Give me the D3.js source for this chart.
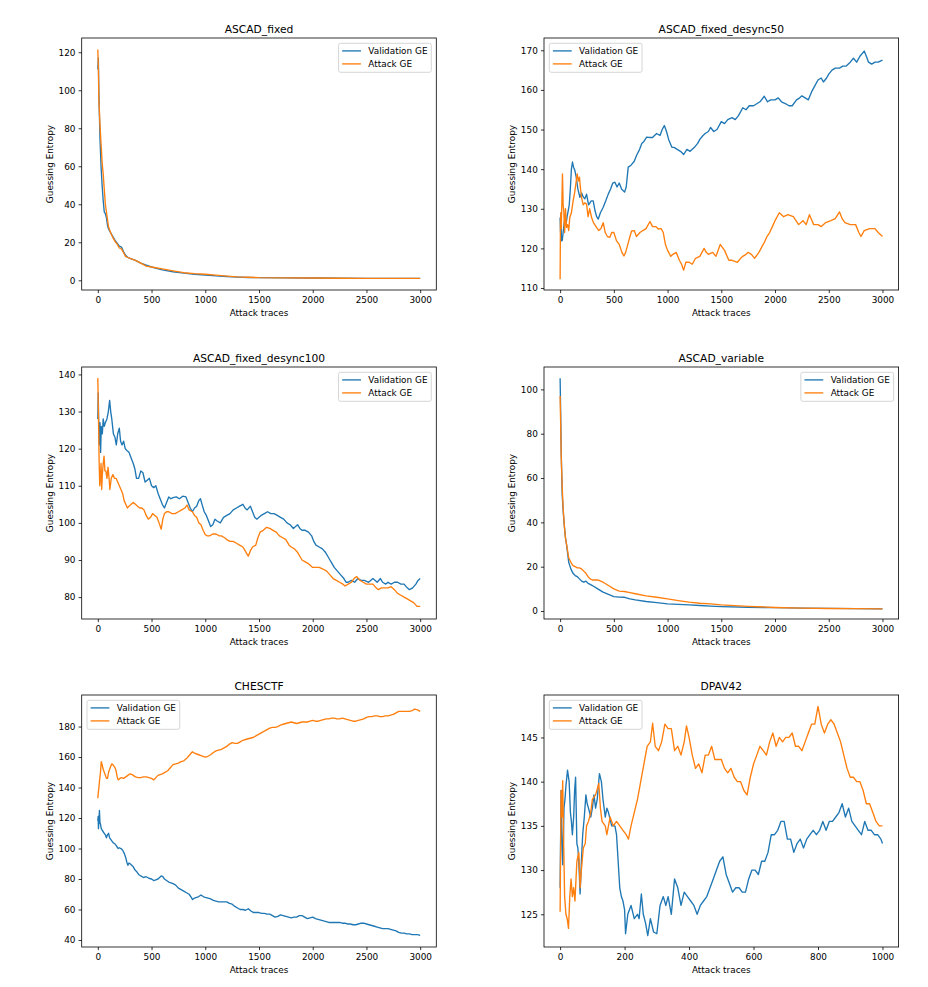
<!DOCTYPE html>
<html><head><meta charset="utf-8">
<script src="https://cdn.jsdelivr.net/npm/d3@7"></script>
<style>body{margin:0;background:#fff}svg{display:block}</style>
</head><body>
<svg id="c" width="928" height="987"></svg>
<script>
// ---------------- DATA ----------------
const seriesNames = ["Validation GE", "Attack GE"];
const xTicks3000 = [0, 500, 1000, 1500, 2000, 2500, 3000];
const xTicks1000 = [0, 200, 400, 600, 800, 1000];

// ASCAD_fixed
const ascadFixedVal = [[0,111],[5,117],[10,98],[20,75],[30,60],[40,50],[50,42],[60,36],[70,35],[80,33],[90,29],[100,27],[120,25],[140,23],[160,21],[180,19.5],[200,18],[220,17.5],[240,15],[260,13],[280,12],[300,11.5],[350,10.5],[400,9],[450,8],[500,7],[600,5.5],[700,4.5],[800,3.8],[900,3.2],[1000,2.8],[1100,2.3],[1200,2],[1300,1.7],[1400,1.5],[1500,1.4],[1750,1.3],[2000,1.2],[2250,1.1],[2500,1.05],[2750,1],[3000,1]];
const ascadFixedAtk = [[0,121.5],[5,112],[10,95],[20,82],[30,72],[40,62],[50,56],[60,48],[70,40],[80,36],[90,32],[100,28],[120,25],[140,22.5],[160,20.5],[180,19],[200,17],[220,16.5],[240,14.5],[260,12.5],[280,12],[300,11.5],[350,10.5],[400,9],[450,7.5],[500,7],[600,6],[700,5],[800,4],[900,3.5],[1000,3.2],[1100,2.7],[1200,2.2],[1300,1.8],[1400,1.6],[1500,1.4],[1750,1.3],[2000,1.2],[2250,1.1],[2500,1.05],[2750,1],[3000,1]];
const ascadFixedYTicks = [0, 20, 40, 60, 80, 100, 120];

// ASCAD_fixed_desync50
const desync50Val = [[0,127.8],[4,124],[8,127],[13,121.9],[20,122],[28,124],[36,126],[44,127.8],[55,126],[65,128],[75,129.5],[85,131],[95,135],[105,140],[115,141.8],[125,140.5],[137,139.7],[150,138],[165,135],[184,132.9],[200,134],[215,133],[230,132.5],[246,133.7],[265,131],[290,132],[308,132],[325,129.5],[340,128],[355,127.4],[375,129],[401,130.4],[425,132],[448,133.7],[470,135],[490,136.5],[510,136.7],[530,135.5],[550,136.5],[572,135],[600,134.2],[615,135.5],[634,140.5],[660,141],[690,142],[712,143.5],[740,145],[760,146.5],[780,147],[805,148.1],[830,148],[860,148],[898,149],[930,148.5],[950,150],[970,151],[990,149.5],[1010,147.5],[1040,145.5],[1060,145.5],[1090,145],[1120,144.5],[1150,143.7],[1180,145],[1210,144.5],[1250,145.5],[1280,146.5],[1300,147.5],[1330,148.5],[1350,149],[1380,149.5],[1400,150.5],[1430,149.5],[1460,150],[1500,152],[1530,151.5],[1560,152.5],[1600,153],[1630,152.5],[1660,153.5],[1700,155.5],[1730,155],[1760,156],[1800,156],[1830,156.5],[1860,157],[1900,158.4],[1930,157],[1960,157.5],[2000,157.5],[2030,158],[2060,157],[2100,156.5],[2130,156],[2160,156],[2200,157.5],[2230,158],[2250,158.5],[2280,158],[2310,157.5],[2340,159.5],[2370,161],[2400,162.5],[2430,163],[2450,162],[2480,163],[2500,164],[2530,165],[2560,165.5],[2600,165.5],[2630,166],[2660,166],[2700,167],[2730,168],[2760,167],[2790,168.5],[2830,169.8],[2850,168.5],[2870,167],[2900,166.5],[2930,167],[2960,167],[3000,167.5]];
const desync50Atk = [[0,112.2],[3,126],[6,129],[10,125],[15,130],[22,138.8],[28,131],[34,129.5],[42,124],[50,130],[59,125.3],[70,126],[80,124.5],[90,127.8],[105,129],[121,132],[135,134],[145,136],[159,138.8],[170,137],[180,138],[190,135],[199,132.9],[215,131],[230,131.5],[246,131.2],[260,128],[275,130],[293,127.8],[310,126.5],[339,125.3],[360,124.5],[380,125],[401,126.5],[420,124],[440,123],[463,122.8],[480,124],[500,124],[525,121.9],[550,121],[575,119],[594,118.1],[610,119],[630,121],[650,123],[665,124.4],[690,124.5],[710,123],[743,124],[770,124.5],[800,125],[836,126.8],[860,125.5],[890,125.5],[914,124.9],[940,125],[960,124],[980,121],[1000,119.5],[1030,118],[1050,118.5],[1080,119],[1110,117],[1130,116],[1150,114.5],[1170,116.5],[1200,116.5],[1230,116],[1260,117.5],[1300,118],[1340,120],[1360,119],[1380,118.5],[1420,119],[1450,118],[1490,121],[1530,119.5],[1570,117],[1600,117],[1620,116.8],[1650,116.5],[1680,117.5],[1700,118],[1730,118.5],[1750,119],[1780,118.5],[1810,117.5],[1850,119],[1880,120.5],[1900,121.5],[1925,123],[1950,124],[1975,125.5],[2000,127],[2040,129],[2080,128],[2120,128.5],[2170,128],[2220,126],[2260,127],[2290,126],[2320,128.5],[2360,126],[2400,126],[2430,125.5],[2470,126.5],[2520,127],[2560,127.5],[2600,129.2],[2625,127.5],[2650,126.5],[2700,126],[2750,126],[2780,124],[2800,123],[2830,124.5],[2880,125],[2930,125],[2960,124],[3000,123]];
const desync50YTicks = [110, 120, 130, 140, 150, 160, 170];

// ASCAD_fixed_desync100
const desync100Val = [[0,128],[4,135],[8,127],[14,121],[20,127],[26,119],[32,126],[42,124],[50,128],[60,126],[70,127],[85,128],[98,130],[110,133],[120,130],[130,128],[145,124],[160,123],[172,121],[185,124],[200,125.5],[212,122],[225,121],[240,122],[255,120],[270,119.5],[290,119],[310,117.5],[330,116],[345,114.5],[360,112],[380,112],[400,114],[420,113.5],[440,111],[460,111.5],[480,112],[500,110],[520,109.5],[540,110],[560,108],[580,106.5],[600,105],[620,104],[640,105.5],[660,107],[680,106.5],[700,106.8],[730,107],[760,106.5],[790,107.2],[820,107],[840,105.5],[860,104],[880,103],[900,104],[920,104.5],[940,106],[955,106.5],[970,105],[990,103],[1010,102],[1030,100.5],[1050,99],[1070,99.5],[1090,101],[1110,100.5],[1140,100],[1170,101.5],[1200,102],[1230,102.5],[1260,103.5],[1290,104],[1320,104.5],[1350,105],[1370,104],[1390,103.5],[1420,104.5],[1440,103],[1460,101.5],[1480,101],[1500,101.5],[1520,102],[1550,102.5],[1580,103],[1610,102.5],[1640,102.5],[1670,102],[1700,101.5],[1730,101],[1760,100],[1790,99.5],[1820,98.5],[1840,99],[1860,99.5],[1880,98.5],[1900,98],[1930,98],[1960,97.5],[1990,96.5],[2010,95],[2030,94],[2060,93.5],[2090,93],[2120,92],[2140,91],[2160,90],[2180,89],[2200,88],[2230,87],[2260,86],[2290,85],[2310,84],[2330,84],[2360,84.5],[2390,84],[2420,85],[2450,84.5],[2480,84.5],[2520,84],[2560,85],[2600,84],[2630,85],[2650,84],[2680,83.5],[2700,84],[2730,83.5],[2760,84],[2790,84],[2820,83.5],[2850,83.5],[2880,82.5],[2900,82],[2930,82.5],[2960,83.5],[2980,84.5],[3000,85]];
const desync100Atk = [[0,139],[4,132],[8,125],[12,117],[18,110],[24,112],[30,116],[36,109],[42,113],[50,116],[58,118],[66,114],[75,114],[85,112],[95,115],[105,112],[112,109],[125,112],[140,113],[155,112],[170,112],[185,111],[200,110],[215,109],[230,108],[245,106],[260,105],[275,104],[290,104.5],[310,105],[330,105.5],[350,105],[370,104.5],[390,104],[410,104],[430,103.5],[450,102],[470,101],[490,101.5],[510,102.5],[530,102],[550,101.5],[570,100],[590,98.3],[605,101],[620,102.5],[640,103],[660,103],[690,102.5],[720,102.5],[750,103],[780,103.5],[810,104],[830,104.8],[850,103.5],[880,103],[900,102],[920,101.5],[940,100],[960,99.5],[980,98],[1000,96.8],[1020,96.5],[1040,96.5],[1070,97],[1100,97],[1130,96.5],[1150,96.5],[1180,96],[1200,95.5],[1230,95],[1260,95],[1290,94.5],[1320,94],[1350,93.5],[1370,92.5],[1390,91.5],[1400,91],[1420,92.5],[1440,93.5],[1470,94],[1490,96],[1510,97.5],[1540,98],[1570,98.8],[1600,98.5],[1630,98],[1660,97.5],[1690,96.5],[1720,96],[1750,95.5],[1780,94],[1800,93.5],[1830,93],[1860,92],[1880,91],[1900,90],[1930,89.5],[1960,89],[2000,88],[2030,88],[2060,88],[2100,87.5],[2130,87],[2160,86],[2190,85],[2220,84.5],[2250,84],[2280,83.5],[2300,83],[2330,83.5],[2360,84],[2390,85.2],[2410,85.5],[2440,84.5],[2470,84],[2500,83.5],[2530,83.5],[2560,83.5],[2590,82.5],[2610,82],[2640,82.5],[2670,82.5],[2700,82.5],[2730,82.8],[2760,82],[2790,81],[2820,80.5],[2850,80],[2880,79.5],[2910,79],[2940,78.5],[2970,77.5],[3000,77.5]];
const desync100YTicks = [80, 90, 100, 110, 120, 130, 140];

// ASCAD_variable
const ascadVariableVal = [[0,105],[5,90],[10,72],[20,52],[30,44],[40,38],[50,33],[60,30],[70,26],[80,22],[90,20.5],[100,19],[120,17],[140,16],[160,15.5],[180,14.5],[200,13.5],[220,13],[240,13.5],[260,12.5],[280,12],[300,11.5],[350,10],[400,8.5],[450,7.5],[500,6.5],[550,6.3],[600,6.2],[650,5.5],[700,5],[800,4.3],[900,3.8],[1000,3.2],[1100,3],[1200,2.8],[1300,2.5],[1400,2.2],[1500,2],[1750,1.7],[2000,1.5],[2250,1.3],[2500,1.2],[2750,1.1],[3000,1]];
const ascadVariableAtk = [[0,97],[5,85],[10,70],[20,55],[30,45],[40,38],[50,33],[60,30],[70,27],[80,24],[90,23],[100,22],[120,20.5],[140,20],[160,19.5],[180,19.5],[200,19],[220,18],[240,17],[260,15.5],[280,14.5],[300,14],[350,14],[400,13],[450,11.5],[500,10],[550,9],[600,8.8],[650,8.3],[700,7.8],[800,6.8],[900,6.2],[1000,5.5],[1100,4.7],[1200,4],[1300,3.5],[1400,3.2],[1500,2.8],[1750,2.1],[2000,1.6],[2250,1.3],[2500,1.15],[2750,1.1],[3000,1]];
const ascadVariableYTicks = [0, 20, 40, 60, 80, 100];

// CHESCTF
const chesctfVal = [[0,118],[3,121],[6,113],[10,118],[15,125],[20,117],[25,116],[32,113],[40,112],[50,111],[60,110],[70,109],[80,107],[90,109],[100,110],[110,107],[120,106],[130,105],[140,104],[150,103.5],[160,103],[170,102],[180,101],[190,100],[200,100.5],[215,100],[230,99],[245,97],[260,94],[270,91],[280,89],[290,90.5],[300,90],[315,89],[330,88],[345,86],[360,85],[380,83],[400,82],[425,81],[450,81.5],[475,80.5],[500,80],[520,79],[540,79.5],[560,80],[575,81],[590,82],[605,81.5],[620,80],[640,79],[660,78],[680,77.5],[700,77],[725,76],[750,74],[775,73],[800,72],[825,71],[850,70],[870,68],[880,66.5],[900,67.5],[920,68],[940,68.5],[960,69.5],[980,68.5],[1000,68],[1025,67.5],[1050,67],[1075,66],[1100,65.5],[1125,65],[1150,65],[1175,65],[1200,65],[1225,64],[1250,63.5],[1275,62],[1300,61],[1325,60],[1350,60],[1375,59.5],[1400,60.5],[1425,59],[1450,58],[1475,58],[1500,58],[1525,57.5],[1550,57.5],[1575,57],[1600,57],[1625,56],[1650,55],[1675,55.5],[1700,56.5],[1725,56],[1750,55.5],[1775,55],[1800,54.5],[1825,55],[1850,55],[1875,56],[1900,56],[1925,55],[1950,54],[1975,54.5],[2000,55],[2025,54],[2050,53.5],[2075,53],[2100,52.5],[2125,52],[2150,51.5],[2175,51.5],[2200,51.5],[2225,51.5],[2250,51.5],[2275,51],[2300,51],[2325,50.5],[2350,50.5],[2375,50],[2400,50],[2425,50.5],[2450,51],[2475,51],[2500,50.5],[2525,50],[2550,49.5],[2575,49],[2600,48.5],[2625,48],[2650,47.5],[2675,47.5],[2700,47.5],[2725,47],[2750,46.5],[2775,46],[2800,45],[2825,44.5],[2850,44.5],[2875,44],[2900,44],[2925,43.5],[2950,43.5],[2975,43.5],[3000,43]];
const chesctfAtk = [[0,133],[5,137],[10,140],[18,146],[25,150],[32,157],[40,155],[50,152],[60,150],[70,148],[80,146],[90,146],[100,150],[110,152],[120,154],[130,155.5],[140,155],[150,154],[160,153],[170,151],[180,147],[190,145],[205,146],[220,146.5],[240,146],[260,147],[280,148],[300,149],[320,148.5],[350,147],[375,146.5],[400,146.5],[425,147],[450,147],[475,146.5],[500,146],[520,145],[540,146.5],[560,148],[580,148.5],[600,149],[625,150],[650,151],[675,153],[700,155],[725,155.5],[750,156],[775,157],[800,157.5],[825,159],[850,161],[880,163.5],[900,162.5],[920,162],[940,161.5],[960,161],[980,160.5],[1000,160],[1025,160.5],[1050,161.5],[1075,163],[1100,164],[1125,164.5],[1150,165],[1175,166],[1200,167],[1225,168.5],[1250,169.5],[1275,169],[1300,169],[1325,170],[1350,171],[1375,171.5],[1400,172],[1425,172.5],[1450,173],[1475,174],[1500,175],[1525,176],[1550,177],[1575,178],[1600,179],[1625,179.5],[1650,179.5],[1675,180],[1700,181],[1725,181.5],[1750,182],[1775,182.5],[1800,183],[1825,182.5],[1850,182],[1875,182.5],[1900,183],[1925,183],[1950,183],[1975,183.5],[2000,184],[2025,183.5],[2050,183.5],[2075,184],[2100,184.5],[2125,185],[2150,185],[2175,185.5],[2200,185.5],[2225,185],[2250,185],[2275,185.5],[2300,185],[2325,184.5],[2350,184],[2375,183.5],[2400,183.5],[2425,184],[2450,184.5],[2475,185],[2500,186],[2525,186.5],[2550,186.5],[2575,187],[2600,187],[2625,186.5],[2650,186.5],[2675,187],[2700,187],[2725,187.5],[2750,188],[2775,189],[2800,190],[2825,190],[2850,190],[2875,190],[2900,190],[2925,190.5],[2950,191.5],[2975,191],[3000,190]];
const chesctfYTicks = [40, 60, 80, 100, 120, 140, 160, 180];

// DPAV42
const dpav42Val = [[0,128],[3,139],[6,133],[8,130.6],[10,133],[12,137],[15,138],[18,139.5],[23,141.3],[28,140],[32,136.5],[35,135.5],[38,134],[42,136],[45,139],[48,140.5],[52,133],[55,132.5],[58,131],[62,127.3],[66,131],[70,134],[75,136],[80,138.5],[84,137.5],[88,137],[95,136],[100,137],[105,138.5],[110,137],[115,138],[122,140.9],[128,140],[133,138],[140,136],[145,137],[150,136.5],[160,135],[170,135],[175,134],[180,131],[185,128],[190,127],[195,126.5],[200,125.5],[203,122.8],[210,125],[220,126],[230,124.5],[240,125],[245,124.5],[252,127.3],[258,125],[265,124],[272,122.6],[280,124.5],[290,123],[300,122.8],[310,126],[320,127],[328,126],[335,127],[345,125],[355,129],[365,128],[375,126],[385,127.5],[395,127],[405,126.5],[415,126],[425,125],[435,126],[445,126.5],[455,127],[465,128],[475,129],[485,130],[495,131],[505,131.5],[515,129.5],[525,128.5],[535,127.5],[545,128],[555,128],[565,127.5],[575,127.5],[585,129],[595,130],[605,130],[615,129.5],[625,131],[635,131],[645,132],[655,134],[665,134],[675,134.5],[685,135.5],[695,135.5],[705,133.5],[715,133.5],[725,132],[735,133],[745,133.5],[755,132.5],[765,133.5],[775,134],[785,134.5],[795,134],[805,134.5],[815,135.5],[825,134.5],[835,135.5],[845,135.5],[855,136],[865,136.5],[875,137.5],[885,136],[895,137],[905,135.5],[915,135],[925,134.5],[935,134],[945,135.5],[955,134.5],[965,134.5],[975,134],[985,134],[995,133.5],[1000,133]];
const dpav42Atk = [[0,125.3],[3,139],[6,136],[8,140.1],[11,133],[14,127],[18,125],[22,124.5],[26,123.4],[30,127],[34,129],[38,127],[42,128],[46,126.5],[52,131],[58,132],[62,128],[66,130],[72,132.5],[78,133],[82,135],[88,135.5],[95,136.5],[100,138],[110,138.5],[120,139.8],[125,137],[130,135.5],[140,135],[145,134],[155,136],[165,135],[175,135.5],[185,135],[195,134.5],[205,134],[212,133.5],[220,135],[230,136.5],[240,138],[250,140],[260,142],[270,144],[280,144.5],[287,146.6],[295,144],[305,143.5],[315,144.5],[325,146.5],[335,146],[345,146],[355,143.5],[365,144],[375,143],[385,144.5],[392,146.3],[400,145],[410,143],[420,141.5],[430,142],[440,141],[450,143],[460,143],[470,144],[480,142.5],[490,142.5],[500,142.5],[510,141.5],[520,141],[530,141.5],[540,140.5],[550,140],[560,140],[570,139],[580,138.5],[590,140.5],[600,142],[610,143],[620,144],[630,143.5],[640,143],[650,144.5],[660,145.5],[670,144],[680,145],[690,144.5],[700,145],[710,145],[720,145.5],[730,144],[740,144],[750,143.5],[760,144.5],[770,145.5],[780,146.5],[790,146.5],[800,148.5],[810,146.5],[820,145.5],[830,146.5],[840,147],[850,146.5],[860,145.5],[870,144.5],[880,143],[890,141.5],[900,140.5],[910,140.5],[920,140],[930,140],[940,139],[950,137.5],[960,137.5],[970,136.5],[980,135.5],[990,135],[1000,135]];
const dpav42YTicks = [125, 130, 135, 140, 145];

// ---------------- LAYOUT ----------------
const COLORS = ["#1f77b4", "#ff7f0e"];
const FONT = "DejaVu Sans, Verdana, sans-serif";
const colLeft = [81.7, 544], plotW = 354.6;
const rowTop = [38, 367, 695], plotH = 252;

const panels = [
  {title:"ASCAD_fixed", s:[ascadFixedVal, ascadFixedAtk], xd:[-150,3150], yd:[-5.1,127.5], xt:xTicks3000, yt:ascadFixedYTicks, leg:"right"},
  {title:"ASCAD_fixed_desync50", s:[desync50Val, desync50Atk], xd:[-150,3150], yd:[109.5,173.1], xt:xTicks3000, yt:desync50YTicks, leg:"left"},
  {title:"ASCAD_fixed_desync100", s:[desync100Val, desync100Atk], xd:[-150,3150], yd:[74.1,142.0], xt:xTicks3000, yt:desync100YTicks, leg:"right"},
  {title:"ASCAD_variable", s:[ascadVariableVal, ascadVariableAtk], xd:[-150,3150], yd:[-3.6,110.1], xt:xTicks3000, yt:ascadVariableYTicks, leg:"right"},
  {title:"CHESCTF", s:[chesctfVal, chesctfAtk], xd:[-150,3150], yd:[35.4,200.7], xt:xTicks3000, yt:chesctfYTicks, leg:"left"},
  {title:"DPAV42", s:[dpav42Val, dpav42Atk], xd:[-50,1050], yd:[121.3,149.8], xt:xTicks1000, yt:dpav42YTicks, leg:"left"}
];

const svg = d3.select("#c");
svg.append("rect").attr("width",928).attr("height",987).attr("fill","#fff");

panels.forEach((p, i) => {
  const L = colLeft[i % 2], T = rowTop[Math.floor(i / 2)];
  const g = svg.append("g").attr("transform", `translate(${L},${T})`);
  const x = d3.scaleLinear().domain(p.xd).range([0, plotW]);
  const y = d3.scaleLinear().domain(p.yd).range([plotH, 0]);

  const clipId = "clip" + i;
  g.append("clipPath").attr("id", clipId).append("rect").attr("width", plotW).attr("height", plotH);

  const line = d3.line().x(d => x(d[0])).y(d => y(d[1]));
  p.s.forEach((data, k) => {
    g.append("path").datum(data).attr("d", line)
      .attr("fill","none").attr("stroke", COLORS[k]).attr("stroke-width", 1.35)
      .attr("stroke-linejoin","round").attr("clip-path", `url(#${clipId})`);
  });

  // spines
  g.append("rect").attr("width", plotW).attr("height", plotH)
    .attr("fill","none").attr("stroke","#000").attr("stroke-width",0.8);

  const ax = g.append("g").attr("transform", `translate(0,${plotH})`)
    .call(d3.axisBottom(x).tickValues(p.xt).tickFormat(d3.format("d")).tickSize(3.1).tickPadding(3.1));
  const ay = g.append("g")
    .call(d3.axisLeft(y).tickValues(p.yt).tickFormat(d3.format("d")).tickSize(3.1).tickPadding(3.1));
  [ax, ay].forEach(a => {
    a.select(".domain").remove();
    a.selectAll(".tick line").attr("stroke","#000").attr("stroke-width",0.8);
    a.selectAll(".tick text").attr("fill","#000").style("font-family", FONT).style("font-size","8.9px");
  });

  g.append("text").attr("x", plotW/2).attr("y", -4.8).attr("text-anchor","middle")
    .style("font-family", FONT).style("font-size","10.7px").attr("fill","#000").text(p.title);
  g.append("text").attr("x", plotW/2).attr("y", plotH + 26).attr("text-anchor","middle")
    .style("font-family", FONT).style("font-size","8.9px").attr("fill","#000").text("Attack traces");
  g.append("text").attr("transform", `translate(-31.7,${plotH/2}) rotate(-90)`)
    .attr("text-anchor","middle").attr("dominant-baseline","central")
    .style("font-family", FONT).style("font-size","8.9px").attr("fill","#000").text("Guessing Entropy");

  // legend
  const lg = g.append("g");
  const box = lg.append("rect");
  let maxW = 0;
  const items = seriesNames.map((nm, k) => {
    const row = lg.append("g");
    row.append("line").attr("stroke", COLORS[k]).attr("stroke-width", 1.35);
    const t = row.append("text").style("font-family", FONT).style("font-size","8.9px")
      .attr("fill","#000").attr("dominant-baseline","central").text(nm);
    maxW = Math.max(maxW, t.node().getComputedTextLength());
    return row;
  });
  const bw = 29.8 + maxW + 3.8, bh = 29;
  const bx = p.leg === "right" ? plotW - 5 - bw : 5.3, by = 5.3;
  box.attr("x", bx).attr("y", by).attr("width", bw).attr("height", bh).attr("rx", 2)
    .attr("fill","#fff").attr("fill-opacity",0.8).attr("stroke","#ccc").attr("stroke-width",0.8);
  items.forEach((row, k) => {
    const cy = by + 7.6 + k * 13;
    row.select("line").attr("x1", bx + 3.6).attr("x2", bx + 22.4).attr("y1", cy).attr("y2", cy);
    row.select("text").attr("x", bx + 29.8).attr("y", cy);
  });
});
</script>
</body></html>
